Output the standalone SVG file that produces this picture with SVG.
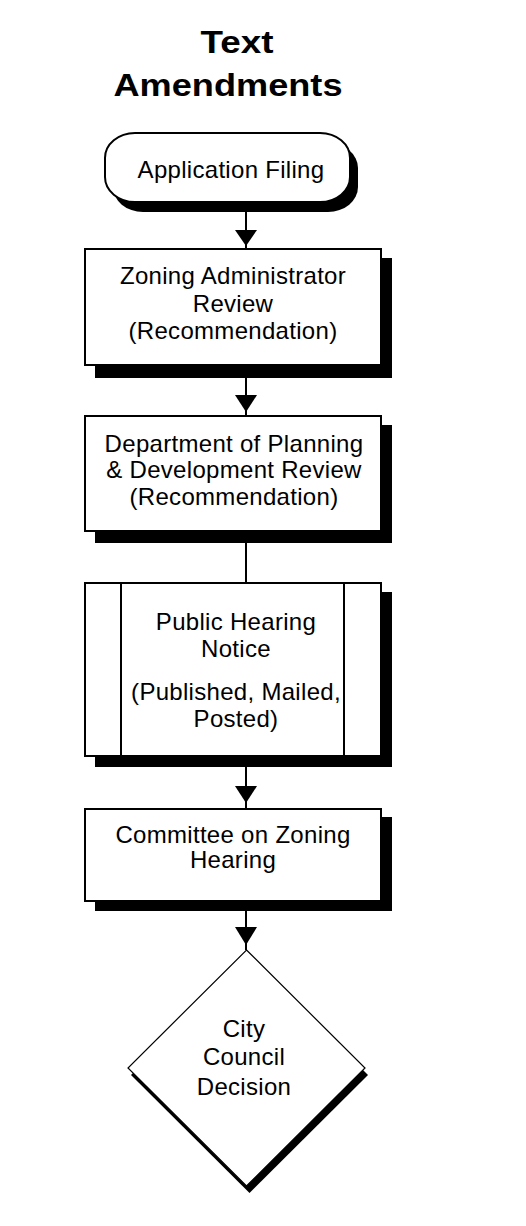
<svg xmlns="http://www.w3.org/2000/svg" width="526" height="1226" viewBox="0 0 526 1226">
<style>
.bg{fill:#fff}
.box{fill:#fff;stroke:#000;stroke-width:2}
.shadow{fill:#000;stroke:none}
.thin{fill:#fff;stroke:#000;stroke-width:1.2}
.lbl{font-family:"Liberation Sans",Arial,sans-serif;font-size:24px;fill:#000;text-anchor:middle;letter-spacing:0.3px}
.title{font-family:"Liberation Sans",Arial,sans-serif;font-size:32px;font-weight:bold;fill:#000;text-anchor:middle}
.conn{stroke:#000;stroke-width:2;fill:none}
.head{fill:#000;stroke:none}
</style>
<rect class="bg" x="0" y="0" width="526" height="1226"/>
<g id="title">
<text class="title" x="237" y="53" textLength="73" lengthAdjust="spacingAndGlyphs">Text</text>
<text class="title" x="228" y="96" textLength="229" lengthAdjust="spacingAndGlyphs">Amendments</text>
</g>
<g id="connectors">
<line class="conn" x1="246" y1="210" x2="246" y2="248"/>
<polygon class="head" points="235,230 257,230 246,246"/>
<line class="conn" x1="246" y1="377" x2="246" y2="415"/>
<polygon class="head" points="235,395 257,395 246,412"/>
<line class="conn" x1="246" y1="542" x2="246" y2="582"/>
<line class="conn" x1="246" y1="766" x2="246" y2="808"/>
<polygon class="head" points="235,786 257,786 246,803"/>
<line class="conn" x1="246" y1="910" x2="246" y2="950"/>
<polygon class="head" points="235,927 257,927 246,945"/>
</g>
<g id="application-filing">
<rect class="shadow" x="113" y="143" width="245" height="69" rx="30" ry="25"/>
<rect class="box" x="105" y="133" width="245" height="69" rx="30" ry="25"/>
<text class="lbl" x="231" y="178">Application Filing</text>
</g>
<g id="zoning-admin-review">
<rect class="shadow" x="95" y="258" width="297" height="120"/>
<rect class="box" x="85" y="249" width="296" height="116"/>
<text class="lbl" x="233" y="284">Zoning Administrator</text>
<text class="lbl" x="233" y="312">Review</text>
<text class="lbl" x="233" y="339">(Recommendation)</text>
</g>
<g id="dpd-review">
<rect class="shadow" x="95" y="425" width="297" height="118"/>
<rect class="box" x="85" y="416" width="296" height="115"/>
<text class="lbl" x="234" y="452">Department of Planning</text>
<text class="lbl" x="234" y="478">&amp; Development Review</text>
<text class="lbl" x="234" y="505">(Recommendation)</text>
</g>
<g id="public-hearing-notice">
<rect class="shadow" x="95" y="592" width="297" height="175"/>
<rect class="box" x="85" y="583" width="296" height="173"/>
<line class="conn" x1="121" y1="583" x2="121" y2="756"/>
<line class="conn" x1="344" y1="583" x2="344" y2="756"/>
<text class="lbl" x="236" y="630">Public Hearing</text>
<text class="lbl" x="236" y="657">Notice</text>
<text class="lbl" x="236" y="700">(Published, Mailed,</text>
<text class="lbl" x="236" y="727">Posted)</text>
</g>
<g id="committee-hearing">
<rect class="shadow" x="95" y="817" width="297" height="94"/>
<rect class="box" x="85" y="809" width="296" height="92"/>
<text class="lbl" x="233" y="843">Committee on Zoning</text>
<text class="lbl" x="233" y="868">Hearing</text>
</g>
<g id="city-council-decision">
<polygon class="shadow" points="249.5,957 368,1075 249.5,1193 131,1075"/>
<polygon class="thin" points="246.5,950 365,1068 246.5,1186 128,1068"/>
<text class="lbl" x="244" y="1037">City</text>
<text class="lbl" x="244" y="1065">Council</text>
<text class="lbl" x="244" y="1095">Decision</text>
</g>
</svg>
